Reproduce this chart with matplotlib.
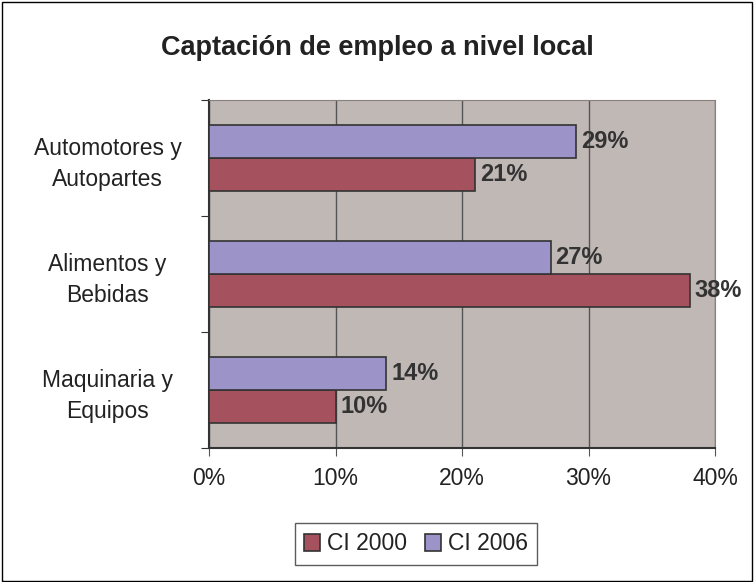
import numpy as np
import matplotlib
matplotlib.use('Agg')
from matplotlib import pyplot as plt
from matplotlib.patches import Rectangle

categorias = ['Automotores y\nAutopartes', 'Alimentos y\nBebidas', 'Maquinaria y\nEquipos']
ci_2000 = [21, 38, 10]
ci_2006 = [29, 27, 14]
ticks_x = [0, 10, 20, 30, 40]

plt.rcParams['font.family'] = ['Liberation Sans', 'DejaVu Sans']

fig = plt.figure(figsize=(7.54, 5.82), dpi=100)
ax = fig.add_axes([209/754, 1 - 448/582, (715-209)/754, (448-100)/582])

y = np.arange(len(categorias))[::-1]
h = 0.285
b1 = ax.barh(y - h/2, ci_2000, height=h, color='#A6525E', edgecolor='#333333', linewidth=1.2, label='CI 2000', zorder=3)
b2 = ax.barh(y + h/2, ci_2006, height=h, color='#9C94C8', edgecolor='#333333', linewidth=1.2, label='CI 2006', zorder=3)

for bars in (b1, b2):
    for r in bars:
        w = r.get_width()
        ax.text(w + 0.4, r.get_y() + r.get_height()/2, f'{w:.0f}%', va='center', ha='left',
                fontsize=17, fontweight='bold', color='#333333', zorder=4)

ax.set_facecolor('#C0B8B5')
ax.set_xlim(0, 40)
ax.set_ylim(-0.5, 2.5)
ax.set_xticks(ticks_x)
ax.set_xticklabels([f'{t}%' for t in ticks_x], fontsize=16.5, color='#222222')
ax.set_yticks([-0.5, 0.5, 1.5, 2.5], minor=False)
ax.set_yticklabels([])
ax.set_yticks(y, minor=True)
ax.set_yticklabels(categorias, minor=True, fontsize=16.5, color='#222222', ha='center', multialignment='center',
                   linespacing=1.4)
ax.tick_params(axis='y', which='minor', length=0, pad=73)
ax.tick_params(axis='y', which='major', length=6, direction='out', color='#333333')
ax.tick_params(axis='x', length=6, direction='out', color='#555555', pad=8)
ax.grid(axis='x', color='#555555', linewidth=1, zorder=0)
for s in ['top', 'right']:
    ax.spines[s].set_color('#8a8080')
for s in ['left', 'bottom']:
    ax.spines[s].set_color('#333333')
    ax.spines[s].set_linewidth(1.5)

fig.text(0.5, 1 - 48/582, 'Captación de empleo a nivel local', ha='center', va='center',
         fontsize=19.5, fontweight='bold', color='#222222')

handles, labels = ax.get_legend_handles_labels()
leg = fig.legend(handles, labels, loc='center', bbox_to_anchor=(416/754, 1 - 544/582), ncol=2,
                 fontsize=16.5, frameon=True, fancybox=False, edgecolor='#333333',
                 handlelength=0.7, handleheight=0.7, handletextpad=0.3, columnspacing=0.8,
                 borderpad=0.4, labelcolor='#222222')
leg.get_frame().set_linewidth(1)

fig.patches.append(Rectangle((0.002, 0.002), 0.995, 0.995, transform=fig.transFigure,
                             fill=False, edgecolor='black', linewidth=1))

fig.savefig('out.png', dpi=100)
